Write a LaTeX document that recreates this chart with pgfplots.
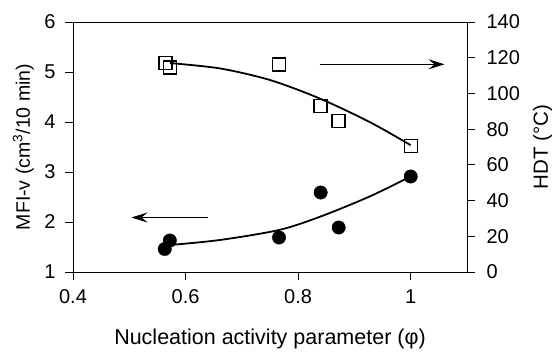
\documentclass[border=0pt]{standalone}
\usepackage{fontspec}
\setmainfont{Liberation Sans}
\usepackage{pgfplots}
\pgfplotsset{compat=1.18}
\usetikzlibrary{arrows.meta}
\begin{document}
\fontsize{19}{22}\selectfont
\begin{tikzpicture}
\pgfplotsset{
  base/.style={
    width=394pt, height=250pt, scale only axis,
    xmin=0.4, xmax=1.1,
    tick align=outside, major tick length=8pt,
    every tick/.style={black, line width=0.8pt},
    axis line style={line width=0.9pt},
    /pgf/number format/assume math mode=true,
    tick label style={font=\fontsize{20}{23}\selectfont},
    clip=false,
  }
}
\begin{axis}[base, name=main,
  ymin=1, ymax=6, ytick={1,2,3,4,5,6},
  xtick={0.4,0.6,0.8,1},
  xtick pos=bottom, ytick pos=left,
  xticklabel style={yshift=-3pt},
  yticklabel style={xshift=-3pt},
  xlabel={Nucleation activity parameter (φ)},
  ylabel={MFI-v (cm\textsuperscript{3}/10 min)},
  xlabel style={font=\fontsize{21.5}{24}\selectfont, inner sep=0pt, at={(rel axis cs:0.5,0)}, anchor=base, yshift=-72.5pt},
  ylabel style={font=\fontsize{19.5}{22}\selectfont, inner sep=0pt, at={(rel axis cs:0,0.5)}, anchor=base, yshift=43pt},
]
\addplot[only marks, mark=*, mark size=6.7pt, mark options={fill=black, draw=black}]
  coordinates {(0.563,1.46) (0.572,1.63) (0.766,1.69) (0.840,2.59) (0.872,1.89) (1.000,2.91)};
\addplot[smooth, line width=1.8pt]
  coordinates {(0.572,1.54) (0.661,1.64) (0.766,1.84) (0.840,2.11) (0.927,2.51) (1.000,2.91)};
\draw[line width=0.9pt, -{Stealth[length=16pt,width=10pt,inset=6pt]}] (axis cs:0.640,2.09) -- (axis cs:0.504,2.09);
\end{axis}
\begin{axis}[base,
  ymin=0, ymax=140, ytick={0,20,...,140},
  axis x line=none, axis y line*=right, ytick pos=right,
  yticklabel style={xshift=5pt},
  ylabel={HDT (°C)},
  ylabel style={font=\fontsize{20.5}{23}\selectfont, inner sep=0pt, at={(rel axis cs:1,0.5)}, anchor=base, yshift=-81pt},
]
\addplot[only marks, mark=square, mark size=6.5pt, mark options={line width=1.4pt, draw=black, fill=white}]
  coordinates {(0.564,116.9) (0.572,114.6) (0.766,116.3) (0.840,92.9) (0.872,84.5) (1.000,70.7)};
\addplot[smooth, line width=1.8pt]
  coordinates {(0.572,117) (0.661,114) (0.750,107.5) (0.838,97.2) (0.927,84) (1.000,71)};
\draw[line width=0.9pt, -{Stealth[length=16pt,width=10pt,inset=6pt]}] (axis cs:0.838,116.3) -- (axis cs:1.060,116.3);
\end{axis}
\path (main.south west) ++(-73pt,-80pt) rectangle ++(555pt,352pt);
\end{tikzpicture}
\end{document}
